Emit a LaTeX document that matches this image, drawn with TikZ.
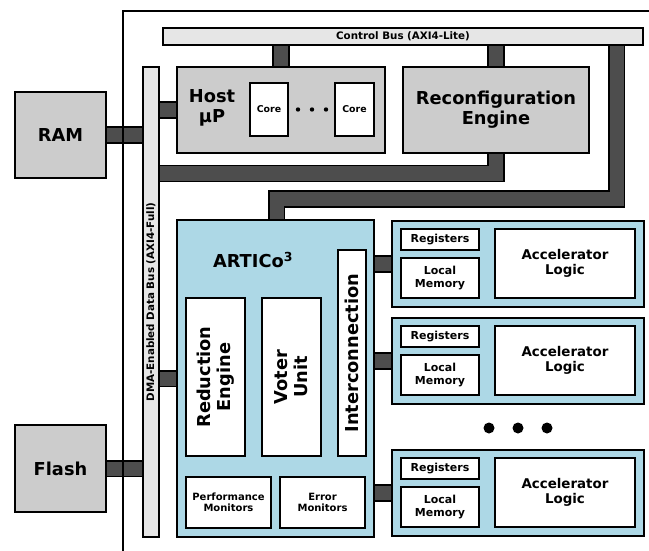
\documentclass[tikz,border=0pt]{standalone}
\usepackage{fontspec}
\setmainfont{DejaVu Sans}
\definecolor{boxgray}{HTML}{CCCCCC}
\definecolor{busgray}{HTML}{E6E6E6}
\definecolor{conngray}{HTML}{4D4D4D}
\definecolor{artblue}{HTML}{ADD8E6}
\pgfdeclarelayer{background}
\pgfsetlayers{background,main}
\tikzset{
  box/.style={draw=black, line width=2pt, inner sep=0pt, align=center, text=black},
  gbox/.style={box, fill=boxgray},
  wbox/.style={box, fill=white},
  bbox/.style={box, fill=artblue},
  busbar/.style={box, fill=busgray, line width=1.6pt},
  conn/.style={draw=black, line width=1.6pt, double=conngray, double distance=14pt},
  big/.style={font=\fontsize{17.8}{20}\selectfont\bfseries},
  mid/.style={font=\fontsize{13.4}{14.5}\selectfont\bfseries},
  sml/.style={font=\fontsize{11}{12.5}\selectfont\bfseries},
  pm/.style={font=\fontsize{10}{11.5}\selectfont\bfseries},
  busf/.style={font=\fontsize{10.3}{12}\selectfont\bfseries},
  tiny/.style={font=\fontsize{9.4}{11}\selectfont\bfseries},
}
\newcommand\accunit[2]{%
  \node[bbox, minimum width=252pt, minimum height=86pt] (acc#1) at (518,#2+43) {};
  \node[wbox, sml, minimum width=78pt, minimum height=21pt] (reg#1) at (440,#2+18.5) {Registers};
  \node[wbox, sml, minimum width=78pt, minimum height=40pt] (mem#1) at (440,#2+57) {Local\\Memory};
  \node[wbox, mid, minimum width=140pt, minimum height=69pt] (logic#1) at (565,#2+42.5) {Accelerator\\Logic};
}
\begin{document}
\begin{tikzpicture}[x=1pt,y=-1pt]
\useasboundingbox (0,0) rectangle (649,551);
% buses
\node[busbar, busf, minimum width=480pt, minimum height=17pt] (ctrl) at (403,36.5) {Control Bus (AXI4-Lite)};
\node[busbar, busf, rotate=90, minimum width=470pt, minimum height=16pt] (dma) at (151,302) {DMA-Enabled Data Bus (AXI4-Full)};
% external memories
\node[gbox, big, minimum width=91pt, minimum height=86pt] (ram) at (60.5,135) {RAM};
\node[gbox, big, minimum width=91pt, minimum height=87pt] (flash) at (60.5,468.5) {Flash};
% host
\node[gbox, minimum width=208pt, minimum height=86pt] (host) at (281,110) {};
\node[big, align=center, inner sep=0pt] (hostlbl) at (212,108) {Host\\μP};
\node[wbox, tiny, minimum width=38pt, minimum height=53pt] (core1) at (269,109.5) {Core};
\node[wbox, tiny, minimum width=39pt, minimum height=53pt] (core2) at (354.5,109.5) {Core};
\foreach \i/\x in {1/298,2/312,3/326} \fill (\x,109.5) circle (2.2pt) coordinate (hd\i);
% reconfiguration engine
\node[gbox, big, minimum width=186pt, minimum height=86pt] (reconf) at (496,110) {Reconfiguration\\Engine};
% ARTICo3
\node[bbox, minimum width=197pt, minimum height=317pt] (artico) at (275.5,378.5) {};
\node[big, inner sep=0pt] (articolbl) at (253,260) {ARTICo\textsuperscript{3}};
\node[wbox, big, rotate=90, minimum width=158pt, minimum height=59pt] (red) at (215.5,377) {Reduction\\Engine};
\node[wbox, big, rotate=90, minimum width=158pt, minimum height=59pt] (voter) at (291.5,377) {Voter\\Unit};
\node[wbox, big, rotate=90, minimum width=206pt, minimum height=28pt] (inter) at (352,353) {Interconnection};
\node[wbox, pm, minimum width=85pt, minimum height=51pt] (perf) at (228.5,502.5) {Performance\\Monitors};
\node[wbox, pm, minimum width=85pt, minimum height=51pt] (err) at (322.5,502.5) {Error\\Monitors};
% accelerators
\accunit{1}{221}
\accunit{2}{318}
\accunit{3}{450}
\foreach \i/\x in {1/489,2/518,3/547} \fill (\x,428) circle (5.5pt) coordinate (ad\i);
% frame
\draw[line width=2pt] (123,551) -- (123,11) -- (649,11);
% connectors
\coordinate (rcb) at (497,173.5);
\coordinate (rbx) at (616.5,199);
\coordinate (rby) at (276.5,199);
\begin{pgfonlayer}{background}
\draw[conn] (ram.center) -- (dma.center |- ram.center);
\draw[conn] (flash.center) -- (dma.center |- flash.center);
\draw[conn] (dma.center |- host.center) -- (host.center);
\draw[conn] (dma.center |- artico.center) -- (artico.center);
\draw[conn] (ctrl.center -| host.center) -- (host.center);
\draw[conn] (ctrl.center -| reconf.center) -- (reconf.center);
\draw[conn] (reconf.center) -- (reconf.center |- rcb) -- (dma.center |- rcb);
\draw[conn] (ctrl.center -| rbx) -- (rbx) -- (rby) -- (artico.center -| rby);
\foreach \i in {1,2,3} \draw[conn] (artico.center |- acc\i.center) -- (acc\i.center);
\end{pgfonlayer}
\end{tikzpicture}
\end{document}
